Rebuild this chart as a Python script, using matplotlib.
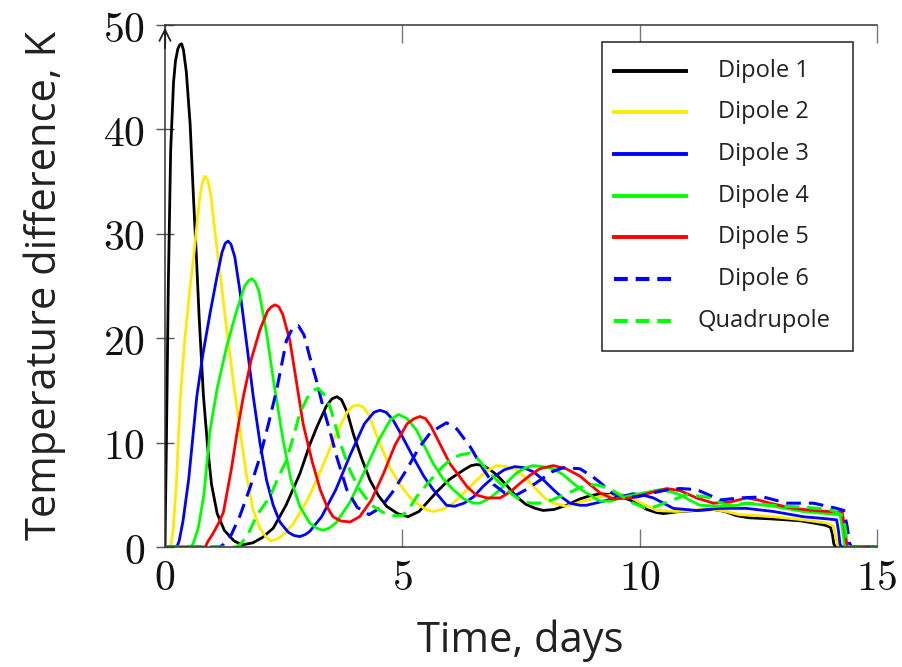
import matplotlib
matplotlib.use("Agg")
import matplotlib.pyplot as plt

plt.rcParams['mathtext.fontset'] = 'cm'

# values (time in days, temperature difference in K)
d1_x = [0, 0.03, 0.07, 0.12, 0.18, 0.22, 0.27, 0.31, 0.35, 0.39, 0.45, 0.53, 0.60, 0.66, 0.72, 0.81,
        0.90, 0.98, 1.10, 1.25, 1.45, 1.62, 1.85, 2.05, 2.28, 2.55, 2.84, 3.05, 3.20, 3.40, 3.52, 3.62,
        3.72, 3.84, 3.97, 4.15, 4.32, 4.50, 4.67, 4.90, 5.12, 5.35, 5.51, 5.75, 6.00, 6.30, 6.45, 6.57,
        6.70, 6.85, 6.99, 7.20, 7.41, 7.60, 7.80, 7.97, 8.20, 8.46, 8.74, 8.95, 9.16, 9.45, 9.80, 10.0,
        10.15, 10.35, 10.5, 10.85, 11.2, 11.55, 11.8, 12.04, 12.3, 12.74, 13.1, 13.4, 13.66, 13.9,
        14.02, 14.06, 14.09, 14.12, 15]
d1_y = [0, 10, 25, 38, 44.5, 46.5, 47.7, 48.1, 48.2, 47.6, 45.5, 40.5, 33.5, 28, 22, 14.5,
        9.5, 6.0, 3.2, 1.6, 0.6, 0.2, 0.4, 0.9, 1.8, 4.0, 7.0, 9.8, 11.5, 13.5, 14.2, 14.4,
        14.1, 12.9, 10.8, 8.4, 6.4, 4.9, 3.9, 3.2, 2.9, 3.4, 4.2, 5.4, 6.5, 7.4, 7.8, 7.9,
        7.8, 7.4, 6.9, 5.9, 4.8, 4.1, 3.7, 3.5, 3.6, 4.0, 4.6, 4.9, 5.1, 5.0, 4.5, 4.0,
        3.6, 3.3, 3.2, 3.4, 3.5, 3.6, 3.4, 3.0, 2.8, 2.7, 2.6, 2.5, 2.3, 2.1,
        1.9, 1.2, 0.3, 0, 0]

d2_x = [0, 0.12, 0.17, 0.24, 0.32, 0.42, 0.52, 0.62, 0.72, 0.78, 0.84, 0.90, 0.97, 1.05, 1.18, 1.30,
        1.45, 1.58, 1.72, 1.86, 2.00, 2.12, 2.22, 2.33, 2.45, 2.70, 3.00, 3.30, 3.60, 3.85, 3.96, 4.07,
        4.18, 4.30, 4.50, 4.75, 4.95, 5.15, 5.30, 5.50, 5.65, 5.85, 6.07, 6.30, 6.50, 6.75, 6.99, 7.20,
        7.41, 7.62, 7.83, 8.00, 8.18, 8.46, 8.74, 9.16, 9.58, 9.80, 10.0, 10.36, 10.78, 11.1, 11.41,
        11.83, 12.1, 12.5, 12.82, 13.45, 13.94, 14.08, 14.13, 14.17, 14.20, 15]
d2_y = [0, 0, 1.5, 6, 14, 20, 24.5, 28.5, 33, 34.8, 35.5, 35.2, 33.6, 30.3, 25.5, 20.8,
        15.5, 11.2, 6.8, 3.5, 1.8, 1.0, 0.6, 0.7, 1.0, 2.2, 4.5, 7.5, 10.8, 13.0, 13.5, 13.6,
        13.4, 12.6, 10.2, 7.5, 6.0, 4.8, 4.2, 3.6, 3.4, 3.6, 4.2, 5.2, 6.1, 7.2, 7.8, 7.7,
        7.4, 6.5, 5.5, 4.7, 4.2, 3.9, 4.3, 4.8, 5.1, 4.8, 4.3, 3.5, 3.4, 3.5, 3.7,
        3.4, 3.1, 3.0, 2.9, 2.6, 2.3, 2.0, 1.0, 0.2, 0, 0]

d3_x = [0, 0.25, 0.30, 0.38, 0.50, 0.67, 0.80, 0.95, 1.10, 1.20, 1.27, 1.33, 1.39, 1.47, 1.58, 1.72,
        1.86, 2.00, 2.14, 2.28, 2.42, 2.60, 2.72, 2.84, 2.96, 3.05, 3.30, 3.60, 3.90, 4.20, 4.40, 4.53,
        4.66, 4.80, 4.95, 5.23, 5.45, 5.65, 5.93, 6.10, 6.30, 6.50, 6.70, 6.92, 7.15, 7.37, 7.56, 7.76,
        7.98, 8.18, 8.35, 8.53, 8.74, 8.88, 9.16, 9.58, 9.86, 10.05, 10.29, 10.5, 10.71, 11.2, 11.69,
        12.25, 12.82, 13.45, 13.94, 14.15, 14.19, 14.22, 14.25, 15]
d3_y = [0, 0, 0.6, 2.5, 6.5, 14.4, 18.5, 22.4, 26, 28.2, 29.1, 29.3, 29.0, 27.8, 24.5, 19.5,
        14.4, 10, 6.4, 4.0, 2.4, 1.4, 1.1, 1.0, 1.2, 1.5, 2.9, 5.5, 8.8, 11.8, 12.9, 13.1,
        12.9, 12.2, 11.0, 8.6, 6.8, 5.5, 4.0, 3.9, 4.2, 4.8, 5.8, 6.7, 7.4, 7.7, 7.6, 7.2,
        6.4, 5.5, 4.8, 4.2, 4.0, 4.0, 4.3, 4.8, 5.1, 5.0, 4.7, 4.2, 3.7, 3.5, 3.7,
        3.7, 3.4, 2.9, 2.7, 2.6, 1.5, 0.3, 0, 0]

d4_x = [0, 0.55, 0.60, 0.70, 0.82, 0.95, 1.10, 1.30, 1.50, 1.68, 1.76, 1.83, 1.90, 1.98, 2.14, 2.30,
        2.49, 2.65, 2.84, 3.05, 3.20, 3.33, 3.46, 3.60, 3.90, 4.20, 4.50, 4.75, 4.92, 5.10, 5.30, 5.45,
        5.65, 5.85, 6.07, 6.30, 6.50, 6.64, 6.85, 7.06, 7.25, 7.41, 7.60, 7.76, 7.97, 8.18, 8.40, 8.60,
        8.80, 8.95, 9.16, 9.40, 9.58, 10.0, 10.43, 10.65, 10.85, 11.05, 11.27, 11.69, 12.1, 12.25,
        12.82, 13.45, 13.94, 14.22, 14.27, 14.31, 14.34, 15]
d4_y = [0, 0, 0.4, 1.8, 5, 11.2, 15.2, 19.2, 22.5, 25, 25.5, 25.7, 25.4, 24.5, 20.5, 15.5,
        10.2, 6.5, 3.9, 2.3, 1.8, 1.6, 1.8, 2.3, 4.3, 7.2, 10.2, 12.2, 12.7, 12.3, 11.2, 9.8,
        8.0, 6.6, 5.5, 4.6, 4.2, 4.2, 4.7, 5.5, 6.4, 7.1, 7.6, 7.8, 7.7, 7.5, 6.9, 6.1,
        5.4, 5.0, 4.4, 4.4, 4.7, 5.1, 5.5, 5.3, 5.0, 4.5, 4.0, 3.9, 4.0, 4.2,
        3.9, 3.4, 3.2, 3.1, 1.8, 0.4, 0, 0]

d5_x = [0, 0.85, 0.90, 1.00, 1.12, 1.23, 1.40, 1.52, 1.65, 1.82, 2.00, 2.16, 2.24, 2.32, 2.40, 2.48,
        2.63, 2.77, 2.91, 3.10, 3.27, 3.42, 3.54, 3.70, 3.90, 4.10, 4.35, 4.60, 4.85, 5.10, 5.25, 5.37,
        5.49, 5.60, 5.80, 6.00, 6.20, 6.36, 6.55, 6.78, 7.06, 7.28, 7.48, 7.70, 7.90, 8.18, 8.45, 8.74,
        8.95, 9.16, 9.44, 9.80, 10.15, 10.57, 10.85, 11.2, 11.55, 11.9, 12.25, 12.5, 12.74, 13.24,
        13.66, 14.0, 14.27, 14.31, 14.36, 14.39, 15]
d5_y = [0, 0, 0.5, 1.2, 2.2, 3.3, 7.5, 11, 14.4, 18, 20.8, 22.6, 23.0, 23.2, 23.0, 22.3,
        19.8, 15.8, 11.8, 8.2, 5.5, 3.8, 2.9, 2.5, 2.4, 2.9, 4.5, 7.0, 9.8, 11.8, 12.3, 12.5,
        12.3, 11.6, 9.8, 8.0, 6.8, 5.8, 5.0, 4.7, 4.7, 5.3, 6.1, 6.9, 7.5, 7.8, 7.5, 6.8,
        6.0, 5.2, 4.6, 4.7, 5.1, 5.6, 5.4, 4.7, 4.2, 4.3, 4.7, 4.5, 4.2, 3.7,
        3.5, 3.4, 3.3, 2.0, 0.4, 0, 0]

d6_x = [0, 1.15, 1.22, 1.40, 1.58, 1.80, 2.00, 2.18, 2.35, 2.56, 2.68, 2.81, 2.93, 3.05, 3.20, 3.33,
        3.48, 3.62, 3.83, 4.05, 4.30, 4.55, 4.80, 5.09, 5.35, 5.60, 5.93, 6.15, 6.43, 6.70, 6.92, 7.15,
        7.41, 7.65, 7.90, 8.15, 8.39, 8.74, 9.02, 9.16, 9.44, 9.70, 9.95, 10.3, 10.6, 10.85, 11.2,
        11.5, 11.69, 12.1, 12.6, 13.1, 13.66, 14.15, 14.30, 14.37, 14.42, 14.46, 15]
d6_y = [0, 0, 0.2, 1.2, 3.0, 5.8, 8.6, 11.8, 15, 19.8, 20.9, 21.2, 20.3, 18.2, 15.8, 13.4,
        11, 8.6, 5.5, 3.8, 3.1, 3.8, 5.3, 7.4, 9.5, 11.0, 11.9, 11.3, 9.6, 7.5, 6.0, 5.2,
        5.0, 5.6, 6.4, 7.2, 7.6, 7.5, 6.7, 6.2, 5.1, 4.8, 4.8, 5.2, 5.5, 5.6, 5.5,
        4.9, 4.5, 4.7, 4.8, 4.2, 4.2, 3.7, 3.5, 2.0, 0.4, 0, 0]

quad_x = [0, 1.50, 1.60, 1.75, 1.93, 2.21, 2.40, 2.56, 2.70, 2.84, 3.00, 3.12, 3.23, 3.35, 3.48, 3.60,
          3.72, 3.90, 4.10, 4.35, 4.60, 4.80, 5.00, 5.15, 5.30, 5.50, 5.65, 5.85, 6.00, 6.20, 6.43, 6.60,
          6.78, 6.95, 7.13, 7.30, 7.48, 7.70, 7.90, 8.15, 8.46, 8.70, 8.95, 9.16, 9.44, 9.65, 9.86,
          10.15, 10.35, 10.57, 10.99, 11.41, 11.83, 12.3, 12.8, 13.1, 13.5, 14.0, 14.29,
          14.33, 14.37, 14.40, 15]
quad_y = [0, 0, 0.3, 1.2, 3.0, 4.8, 6.8, 8.3, 10.5, 12.8, 14.3, 15.0, 15.2, 14.6, 13.4, 11.5,
          9.6, 7.3, 5.5, 4.0, 3.3, 3.0, 3.0, 3.7, 4.8, 5.9, 6.7, 7.7, 8.3, 8.8, 9.0, 8.4,
          7.4, 6.6, 5.8, 5.1, 4.5, 4.2, 4.2, 4.5, 5.1, 5.6, 6.0, 5.9, 5.4, 4.8, 4.2,
          3.7, 3.9, 4.3, 5.0, 4.8, 4.0, 4.2, 4.0, 3.9, 3.8, 3.6, 3.0,
          1.8, 0.4, 0, 0]

series = [
    ("Dipole 1", d1_x, d1_y, "black", "-"),
    ("Dipole 2", d2_x, d2_y, "#ffe900", "-"),
    ("Dipole 3", d3_x, d3_y, "#0000ff", "-"),
    ("Dipole 4", d4_x, d4_y, "#00ff00", "-"),
    ("Dipole 5", d5_x, d5_y, "#ff0000", "-"),
    ("Dipole 6", d6_x, d6_y, "#0000ff", "--"),
    ("Quadrupole", quad_x, quad_y, "#00ff00", "--"),
]

x_ticks = [0, 5, 10, 15]
y_ticks = [0, 10, 20, 30, 40, 50]

fig = plt.figure(figsize=(9.02, 6.67), dpi=100)
ax = fig.add_axes([0.1829, 0.1799, 0.7894, 0.7826])

for name, xs, ys, col, ls in series:
    if ls == "--":
        ax.plot(xs, ys, color=col, lw=2.2, dashes=(4.8, 2.6), label=name)
    else:
        ax.plot(xs, ys, color=col, lw=2.0, label=name)

ax.set_xlim(0, 15)
ax.set_ylim(0, 50)
ax.set_xticks(x_ticks, labels=["$%d$" % t for t in x_ticks])
ax.set_yticks(y_ticks, labels=["$%d$" % t for t in y_ticks])
ax.tick_params(axis='x', direction='in', length=13, width=1.0, color='#777777',
               top=True, labelsize=30, pad=7)
ax.tick_params(axis='y', direction='inout', length=13, width=1.0, color='#555555',
               labelsize=30, pad=8)
for t in ax.get_xticklabels() + ax.get_yticklabels():
    t.set_color('#111111')

ax.spines['right'].set_visible(False)
for s in ['left', 'bottom', 'top']:
    ax.spines[s].set_linewidth(1.1)
    ax.spines[s].set_color('#333333')
ax.annotate('', xy=(0, 1.0), xytext=(0, 0.95), xycoords='axes fraction',
            arrowprops=dict(arrowstyle='->', color='#222222', lw=1.3, mutation_scale=20))

fig.text(0.5765, 0.040, "Time, days", ha='center', va='center',
         fontsize=30, family='Open Sans', color='#222222')
fig.text(0.050, 0.5727, "Temperature difference, K", ha='center', va='center',
         rotation=90, fontsize=30, family='Open Sans', color='#222222')

# legend drawn by hand so the labels sit centred as in the original
box_l, box_r, box_b, box_t = 0.6133, 0.9663, 0.3755, 0.9674
ax.add_patch(plt.Rectangle((box_l, box_b), box_r - box_l, box_t - box_b,
                           transform=ax.transAxes, facecolor='white',
                           edgecolor='#222222', lw=1.1, zorder=5))
row0, row_step = 0.9125, 0.0798
for i, (name, xs, ys, col, ls) in enumerate(series):
    yy = row0 - i * row_step
    if ls == "--":
        ax.plot([0.6306, 0.7220], [yy, yy], transform=ax.transAxes, color=col,
                lw=3.0, dashes=(3.3, 1.9), zorder=6, clip_on=False)
    else:
        ax.plot([0.6306, 0.7317], [yy, yy], transform=ax.transAxes, color=col,
                lw=2.8, zorder=6, clip_on=False)
    ax.text(0.8406, yy, name, transform=ax.transAxes, ha='center', va='center',
            fontsize=17, family='Open Sans', color='#222222', zorder=6)

fig.savefig("out.png", dpi=100)
